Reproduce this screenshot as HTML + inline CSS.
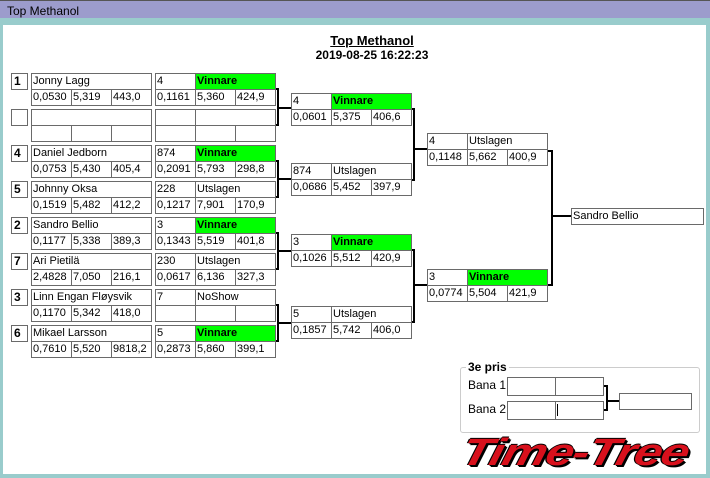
<!DOCTYPE html>
<html><head><meta charset="utf-8"><style>
*{margin:0;padding:0;box-sizing:border-box}
body{width:710px;height:478px;position:relative;background:#99cccc;font-family:"Liberation Sans",Tahoma,sans-serif;font-size:11px;overflow:hidden}
#tb{position:absolute;left:0;top:0;width:710px;height:18px;background:#9c9ccc;border-top:1px solid #555;padding:3px 0 0 7px;font-size:12px;color:#000}
#pn{position:absolute;left:3px;top:25px;width:703px;height:449px;background:#fff}
.c{position:absolute;border:1px solid #6a6a6a;height:17px;line-height:15px;padding-left:1px;white-space:nowrap;overflow:hidden;background:#fff}
.g{background:#00ff00;font-weight:bold}
.s{font-weight:bold;font-size:12px;padding-left:2px}
.l{position:absolute;background:#000}
</style></head><body>
<div id="tb">Top Methanol</div>
<div id="pn"></div>
<div style="position:absolute;left:272px;width:200px;top:33px;text-align:center;font-weight:bold;font-size:13px;text-decoration:underline">Top Methanol</div>
<div style="position:absolute;left:272px;width:200px;top:48px;text-align:center;font-weight:bold;font-size:12px">2019-08-25 16:22:23</div>

<!-- row1 -->
<div class="c s" style="left:11px;top:73px;width:17px">1</div>
<div class="c" style="left:31px;top:73px;width:121px">Jonny Lagg</div>
<div class="c" style="left:31px;top:89px;width:41px">0,0530</div><div class="c" style="left:71px;top:89px;width:41px">5,319</div><div class="c" style="left:111px;top:89px;width:41px">443,0</div>
<div class="c" style="left:155px;top:73px;width:41px">4</div><div class="c g" style="left:195px;top:73px;width:81px">Vinnare</div>
<div class="c" style="left:155px;top:89px;width:41px">0,1161</div><div class="c" style="left:195px;top:89px;width:41px">5,360</div><div class="c" style="left:235px;top:89px;width:41px">424,9</div>
<!-- row2 -->
<div class="c s" style="left:11px;top:109px;width:17px"></div>
<div class="c" style="left:31px;top:109px;width:121px"></div>
<div class="c" style="left:31px;top:125px;width:41px"></div><div class="c" style="left:71px;top:125px;width:41px"></div><div class="c" style="left:111px;top:125px;width:41px"></div>
<div class="c" style="left:155px;top:109px;width:41px"></div><div class="c" style="left:195px;top:109px;width:81px"></div>
<div class="c" style="left:155px;top:125px;width:41px"></div><div class="c" style="left:195px;top:125px;width:41px"></div><div class="c" style="left:235px;top:125px;width:41px"></div>
<!-- row3 -->
<div class="c s" style="left:11px;top:145px;width:17px">4</div>
<div class="c" style="left:31px;top:145px;width:121px">Daniel Jedborn</div>
<div class="c" style="left:31px;top:161px;width:41px">0,0753</div><div class="c" style="left:71px;top:161px;width:41px">5,430</div><div class="c" style="left:111px;top:161px;width:41px">405,4</div>
<div class="c" style="left:155px;top:145px;width:41px">874</div><div class="c g" style="left:195px;top:145px;width:81px">Vinnare</div>
<div class="c" style="left:155px;top:161px;width:41px">0,2091</div><div class="c" style="left:195px;top:161px;width:41px">5,793</div><div class="c" style="left:235px;top:161px;width:41px">298,8</div>
<!-- row4 -->
<div class="c s" style="left:11px;top:181px;width:17px">5</div>
<div class="c" style="left:31px;top:181px;width:121px">Johnny Oksa</div>
<div class="c" style="left:31px;top:197px;width:41px">0,1519</div><div class="c" style="left:71px;top:197px;width:41px">5,482</div><div class="c" style="left:111px;top:197px;width:41px">412,2</div>
<div class="c" style="left:155px;top:181px;width:41px">228</div><div class="c" style="left:195px;top:181px;width:81px">Utslagen</div>
<div class="c" style="left:155px;top:197px;width:41px">0,1217</div><div class="c" style="left:195px;top:197px;width:41px">7,901</div><div class="c" style="left:235px;top:197px;width:41px">170,9</div>
<!-- row5 -->
<div class="c s" style="left:11px;top:217px;width:17px">2</div>
<div class="c" style="left:31px;top:217px;width:121px">Sandro Bellio</div>
<div class="c" style="left:31px;top:233px;width:41px">0,1177</div><div class="c" style="left:71px;top:233px;width:41px">5,338</div><div class="c" style="left:111px;top:233px;width:41px">389,3</div>
<div class="c" style="left:155px;top:217px;width:41px">3</div><div class="c g" style="left:195px;top:217px;width:81px">Vinnare</div>
<div class="c" style="left:155px;top:233px;width:41px">0,1343</div><div class="c" style="left:195px;top:233px;width:41px">5,519</div><div class="c" style="left:235px;top:233px;width:41px">401,8</div>
<!-- row6 -->
<div class="c s" style="left:11px;top:253px;width:17px">7</div>
<div class="c" style="left:31px;top:253px;width:121px">Ari Pietilä</div>
<div class="c" style="left:31px;top:269px;width:41px">2,4828</div><div class="c" style="left:71px;top:269px;width:41px">7,050</div><div class="c" style="left:111px;top:269px;width:41px">216,1</div>
<div class="c" style="left:155px;top:253px;width:41px">230</div><div class="c" style="left:195px;top:253px;width:81px">Utslagen</div>
<div class="c" style="left:155px;top:269px;width:41px">0,0617</div><div class="c" style="left:195px;top:269px;width:41px">6,136</div><div class="c" style="left:235px;top:269px;width:41px">327,3</div>
<!-- row7 -->
<div class="c s" style="left:11px;top:289px;width:17px">3</div>
<div class="c" style="left:31px;top:289px;width:121px">Linn Engan Fløysvik</div>
<div class="c" style="left:31px;top:305px;width:41px">0,1170</div><div class="c" style="left:71px;top:305px;width:41px">5,342</div><div class="c" style="left:111px;top:305px;width:41px">418,0</div>
<div class="c" style="left:155px;top:289px;width:41px">7</div><div class="c" style="left:195px;top:289px;width:81px">NoShow</div>
<div class="c" style="left:155px;top:305px;width:41px"></div><div class="c" style="left:195px;top:305px;width:41px"></div><div class="c" style="left:235px;top:305px;width:41px"></div>
<!-- row8 -->
<div class="c s" style="left:11px;top:325px;width:17px">6</div>
<div class="c" style="left:31px;top:325px;width:121px">Mikael Larsson</div>
<div class="c" style="left:31px;top:341px;width:41px">0,7610</div><div class="c" style="left:71px;top:341px;width:41px">5,520</div><div class="c" style="left:111px;top:341px;width:41px">9818,2</div>
<div class="c" style="left:155px;top:325px;width:41px">5</div><div class="c g" style="left:195px;top:325px;width:81px">Vinnare</div>
<div class="c" style="left:155px;top:341px;width:41px">0,2873</div><div class="c" style="left:195px;top:341px;width:41px">5,860</div><div class="c" style="left:235px;top:341px;width:41px">399,1</div>

<!-- round 2 -->
<div class="c" style="left:291px;top:93px;width:41px">4</div><div class="c g" style="left:331px;top:93px;width:81px">Vinnare</div>
<div class="c" style="left:291px;top:109px;width:41px">0,0601</div><div class="c" style="left:331px;top:109px;width:41px">5,375</div><div class="c" style="left:371px;top:109px;width:41px">406,6</div>
<div class="c" style="left:291px;top:163px;width:41px">874</div><div class="c" style="left:331px;top:163px;width:81px">Utslagen</div>
<div class="c" style="left:291px;top:179px;width:41px">0,0686</div><div class="c" style="left:331px;top:179px;width:41px">5,452</div><div class="c" style="left:371px;top:179px;width:41px">397,9</div>
<div class="c" style="left:291px;top:234px;width:41px">3</div><div class="c g" style="left:331px;top:234px;width:81px">Vinnare</div>
<div class="c" style="left:291px;top:250px;width:41px">0,1026</div><div class="c" style="left:331px;top:250px;width:41px">5,512</div><div class="c" style="left:371px;top:250px;width:41px">420,9</div>
<div class="c" style="left:291px;top:306px;width:41px">5</div><div class="c" style="left:331px;top:306px;width:81px">Utslagen</div>
<div class="c" style="left:291px;top:322px;width:41px">0,1857</div><div class="c" style="left:331px;top:322px;width:41px">5,742</div><div class="c" style="left:371px;top:322px;width:41px">406,0</div>

<!-- round 3 -->
<div class="c" style="left:427px;top:133px;width:41px">4</div><div class="c" style="left:467px;top:133px;width:81px">Utslagen</div>
<div class="c" style="left:427px;top:149px;width:41px">0,1148</div><div class="c" style="left:467px;top:149px;width:41px">5,662</div><div class="c" style="left:507px;top:149px;width:41px">400,9</div>
<div class="c" style="left:427px;top:269px;width:41px">3</div><div class="c g" style="left:467px;top:269px;width:81px">Vinnare</div>
<div class="c" style="left:427px;top:285px;width:41px">0,0774</div><div class="c" style="left:467px;top:285px;width:41px">5,504</div><div class="c" style="left:507px;top:285px;width:41px">421,9</div>

<div class="c" style="left:571px;top:208px;width:133px">Sandro Bellio</div>

<!-- connectors r1 -->
<div class="l" style="left:276px;top:88px;width:3px;height:2px"></div><div class="l" style="left:276px;top:124px;width:3px;height:2px"></div><div class="l" style="left:277px;top:88px;width:2px;height:38px"></div><div class="l" style="left:277px;top:107px;width:14px;height:2px"></div>
<div class="l" style="left:276px;top:160px;width:3px;height:2px"></div><div class="l" style="left:276px;top:196px;width:3px;height:2px"></div><div class="l" style="left:277px;top:160px;width:2px;height:38px"></div><div class="l" style="left:277px;top:178px;width:14px;height:2px"></div>
<div class="l" style="left:276px;top:232px;width:3px;height:2px"></div><div class="l" style="left:276px;top:268px;width:3px;height:2px"></div><div class="l" style="left:277px;top:232px;width:2px;height:38px"></div><div class="l" style="left:277px;top:250px;width:14px;height:2px"></div>
<div class="l" style="left:276px;top:304px;width:3px;height:2px"></div><div class="l" style="left:276px;top:340px;width:3px;height:2px"></div><div class="l" style="left:277px;top:304px;width:2px;height:38px"></div><div class="l" style="left:277px;top:322px;width:14px;height:2px"></div>
<!-- r2 -->
<div class="l" style="left:412px;top:108px;width:3px;height:2px"></div><div class="l" style="left:412px;top:179px;width:3px;height:2px"></div><div class="l" style="left:413px;top:108px;width:2px;height:73px"></div><div class="l" style="left:413px;top:148px;width:14px;height:2px"></div>
<div class="l" style="left:412px;top:249px;width:3px;height:2px"></div><div class="l" style="left:412px;top:321px;width:3px;height:2px"></div><div class="l" style="left:413px;top:249px;width:2px;height:74px"></div><div class="l" style="left:413px;top:284px;width:14px;height:2px"></div>
<!-- r3 -->
<div class="l" style="left:548px;top:150px;width:5px;height:2px"></div><div class="l" style="left:548px;top:284px;width:5px;height:2px"></div><div class="l" style="left:551px;top:150px;width:2px;height:136px"></div><div class="l" style="left:551px;top:215px;width:20px;height:2px"></div>

<!-- 3e pris -->
<div style="position:absolute;left:460px;top:367px;width:240px;height:66px;border:1px solid #ccc;border-radius:3px"></div>
<div style="position:absolute;left:466px;top:360px;background:#fff;padding:0 2px;font-weight:bold;font-size:12px">3e pris</div>
<div style="position:absolute;left:468px;top:378px;font-size:12px">Bana 1</div>
<div style="position:absolute;left:468px;top:402px;font-size:12px">Bana 2</div>
<div class="c" style="left:507px;top:377px;width:49px;height:19px"></div><div class="c" style="left:555px;top:377px;width:49px;height:19px"></div>
<div class="c" style="left:507px;top:401px;width:49px;height:19px"></div><div class="c" style="left:555px;top:401px;width:49px;height:19px"></div>
<div class="l" style="left:557px;top:404px;width:1px;height:12px"></div>
<div class="c" style="left:619px;top:393px;width:73px;height:17px"></div>
<div class="l" style="left:604px;top:385px;width:4px;height:2px"></div><div class="l" style="left:604px;top:409px;width:4px;height:2px"></div><div class="l" style="left:606px;top:385px;width:2px;height:26px"></div><div class="l" style="left:606px;top:400px;width:13px;height:2px"></div>

<div style="position:absolute;left:462px;top:433px;width:250px;height:40px;font-weight:bold;font-style:italic;font-size:38px;line-height:40px;color:#d8101c;letter-spacing:-1px;transform:skewX(-14deg) scaleX(1.32);transform-origin:left center;text-shadow:1px 1px 0 #000,-1px 0 0 #000,0 -1px 0 #000,2px 2px 0 #000">Time-Tree</div>
</body></html>
